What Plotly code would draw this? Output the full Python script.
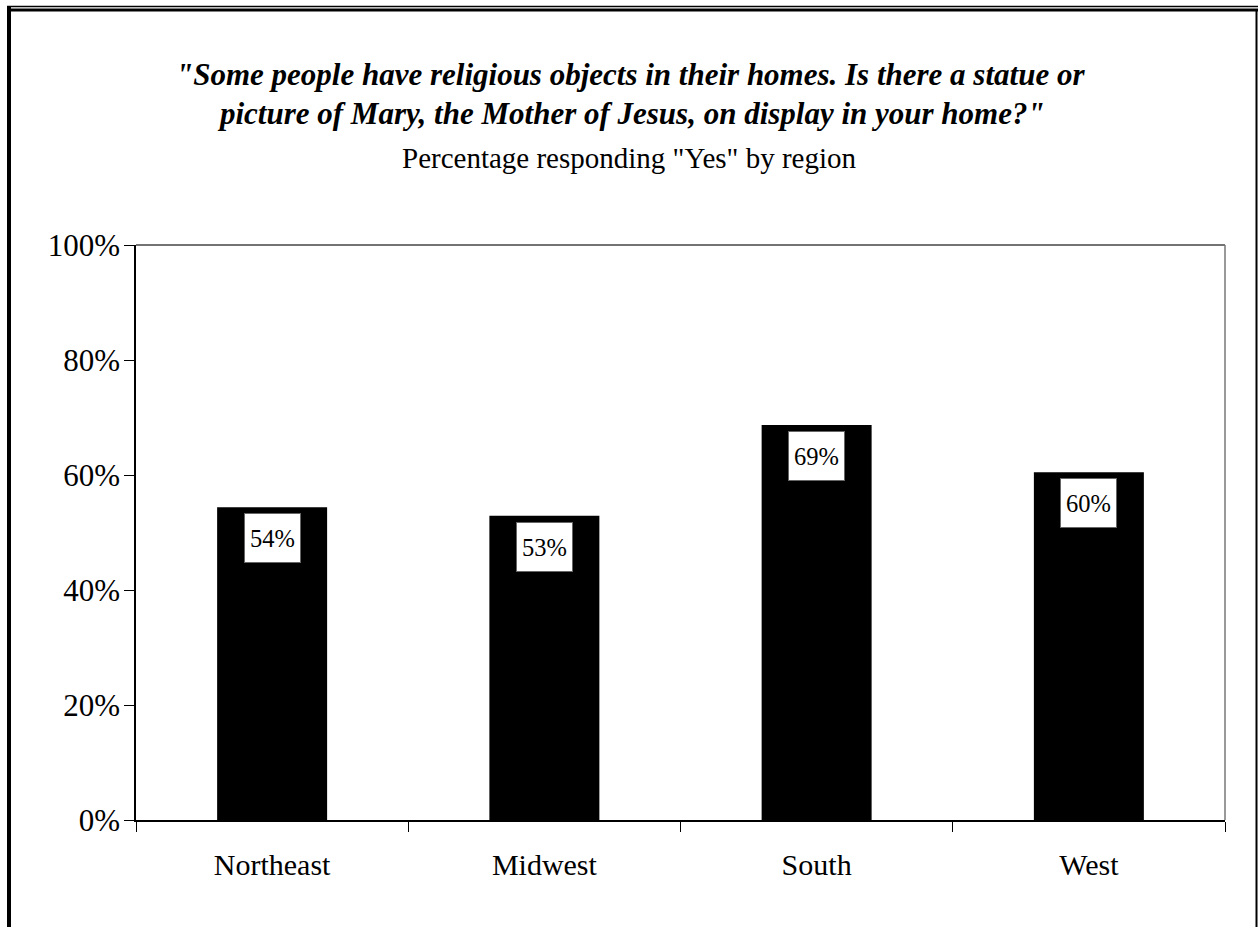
import plotly.graph_objects as go

categories = ["Northeast", "Midwest", "South", "West"]
values = [54.4, 52.9, 68.7, 60.5]
value_labels = ["54%", "53%", "69%", "60%"]
y_ticks = [0, 20, 40, 60, 80, 100]
y_tick_labels = ["0%", "20%", "40%", "60%", "80%", "100%"]

title_line1 = "\"Some people have religious objects in their homes. Is there a statue or"
title_line2 = "picture of Mary, the Mother of Jesus, on display in your home?\""
subtitle = "Percentage responding \"Yes\" by region"

W, H = 1258, 927
L, R, T, B = 136, 33, 245, 107
PW, PH = W - L - R, H - T - B
FONT = "Liberation Serif, Times New Roman, serif"


def px(x):
    return (x - L) / PW


def py(y):
    return (H - B - y) / PH


fig = go.Figure(go.Bar(
    x=categories, y=values,
    marker=dict(color="black", line=dict(width=0)),
    hoverinfo="skip",
))

annotations = []
for c, v, t in zip(categories, values, value_labels):
    annotations.append(dict(
        x=c, y=v, xref="x", yref="y", text=t, showarrow=False,
        yanchor="top", yshift=-6, width=55, height=48, valign="middle",
        font=dict(family=FONT, size=24.5, color="black"),
        bgcolor="white", bordercolor="#666666", borderwidth=1, borderpad=0,
    ))

annotations += [
    dict(x=px(630), xref="paper", y=py(75), yref="paper", yanchor="middle",
         text="<b><i>" + title_line1 + "</i></b>", showarrow=False,
         font=dict(family=FONT, size=31, color="black")),
    dict(x=px(631), xref="paper", y=py(113), yref="paper", yanchor="middle",
         text="<b><i>" + title_line2 + "</i></b>", showarrow=False,
         font=dict(family=FONT, size=31, color="black")),
    dict(x=px(629), xref="paper", y=py(158), yref="paper", yanchor="middle",
         text=subtitle, showarrow=False,
         font=dict(family=FONT, size=29, color="black")),
]

shapes = [
    # plot area top/right edges
    dict(type="line", xref="paper", yref="paper", x0=0, x1=1, y0=1, y1=1,
         line=dict(color="#444444", width=1.5)),
    dict(type="line", xref="paper", yref="paper", x0=1, x1=1, y0=0, y1=1,
         line=dict(color="#777777", width=1.5)),
    # outer frame
    dict(type="line", xref="paper", yref="paper", x0=px(7), x1=px(1258), y0=py(6.5), y1=py(6.5),
         line=dict(color="black", width=1.5)),
    dict(type="line", xref="paper", yref="paper", x0=px(7), x1=px(1258), y0=py(10), y1=py(10),
         line=dict(color="black", width=3)),
    dict(type="line", xref="paper", yref="paper", x0=px(9), x1=px(9), y0=py(6), y1=py(927),
         line=dict(color="black", width=4)),
    dict(type="line", xref="paper", yref="paper", x0=px(1256.5), x1=px(1256.5), y0=py(10), y1=py(927),
         line=dict(color="black", width=2)),
]

fig.update_layout(
    width=W, height=H,
    margin=dict(l=L, r=R, t=T, b=B, pad=0),
    paper_bgcolor="white", plot_bgcolor="white",
    bargap=0.596,
    showlegend=False,
    annotations=annotations,
    shapes=shapes,
    font=dict(family=FONT, color="black"),
)

fig.update_xaxes(
    showline=True, linecolor="black", linewidth=1.5,
    ticks="outside", tickson="boundaries", ticklen=10, tickwidth=1, tickcolor="black",
    tickfont=dict(family=FONT, size=30, color="black"),
    ticklabelstandoff=17,
    showgrid=False, zeroline=False, fixedrange=True,
)
fig.update_yaxes(
    range=[0, 100],
    tickvals=y_ticks, ticktext=y_tick_labels,
    showline=True, linecolor="black", linewidth=1.5,
    ticks="outside", ticklen=10, tickwidth=1, tickcolor="black",
    tickfont=dict(family=FONT, size=31, color="black"),
    ticklabelstandoff=-2,
    showgrid=False, zeroline=False, fixedrange=True,
)

fig.write_html(
    "out.html",
    config={"displayModeBar": False},
    post_script="document.body.style.margin='0';document.body.style.padding='0';",
)
